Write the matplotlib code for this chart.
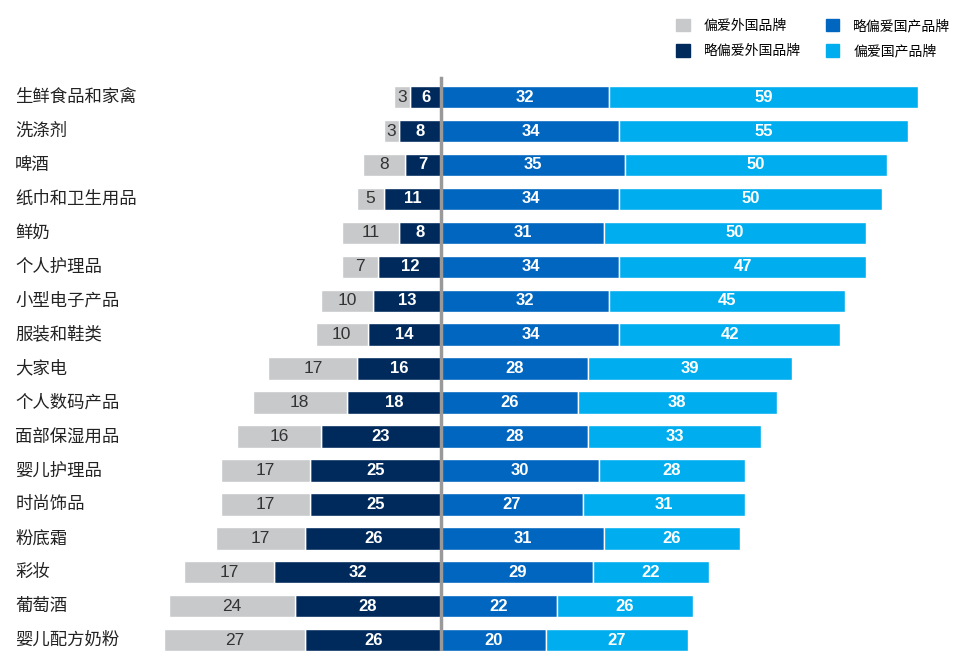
import numpy as np
import matplotlib.pyplot as plt
from matplotlib.patches import Patch

plt.rcParams['font.family'] = ['Noto Sans CJK SC', 'DejaVu Sans']

categories = ['生鲜食品和家禽', '洗涤剂', '啤酒', '纸巾和卫生用品', '鲜奶', '个人护理品',
              '小型电子产品', '服装和鞋类', '大家电', '个人数码产品', '面部保湿用品',
              '婴儿护理品', '时尚饰品', '粉底霜', '彩妆', '葡萄酒', '婴儿配方奶粉']
foreign = [3, 3, 8, 5, 11, 7, 10, 10, 17, 18, 16, 17, 17, 17, 17, 24, 27]
foreign_slight = [6, 8, 7, 11, 8, 12, 13, 14, 16, 18, 23, 25, 25, 26, 32, 28, 26]
domestic_slight = [32, 34, 35, 34, 31, 34, 32, 34, 28, 26, 28, 30, 27, 31, 29, 22, 20]
domestic = [59, 55, 50, 50, 50, 47, 45, 42, 39, 38, 33, 28, 31, 26, 22, 26, 27]

series_names = ['偏爱外国品牌', '略偏爱外国品牌', '略偏爱国产品牌', '偏爱国产品牌']
c_gray = '#C8C9CB'
c_navy = '#002A5C'
c_blue = '#0066C0'
c_light = '#00AEEF'

fig = plt.figure(figsize=(9.57, 6.51), dpi=100)
ax = fig.add_axes([0, 0, 1, 1])

y = np.arange(len(categories))
fs = np.array(foreign_slight)
f = np.array(foreign)
ds = np.array(domestic_slight)
d = np.array(domestic)
h = 0.66

ax.barh(y, -fs, height=h, color=c_navy, edgecolor='white', linewidth=1)
ax.barh(y, -f, left=-fs, height=h, color=c_gray, edgecolor='white', linewidth=1)
ax.barh(y, ds, height=h, color=c_blue, edgecolor='white', linewidth=1)
ax.barh(y, d, left=ds, height=h, color=c_light, edgecolor='white', linewidth=1)

for i in range(len(categories)):
    ax.text(-fs[i] / 2, i, str(fs[i]), ha='center', va='center', color='white',
            fontsize=12, fontweight='bold', family='Liberation Sans')
    ax.text(-fs[i] - f[i] / 2, i, str(f[i]), ha='center', va='center', color='#333333',
            fontsize=12.5, family='Liberation Sans')
    ax.text(ds[i] / 2, i, str(ds[i]), ha='center', va='center', color='white',
            fontsize=12, fontweight='bold', family='Liberation Sans')
    ax.text(ds[i] + d[i] / 2, i, str(d[i]), ha='center', va='center', color='white',
            fontsize=12, fontweight='bold', family='Liberation Sans')
    ax.text(-81.3, i, categories[i], ha='left', va='center', color='#222222', fontsize=12.5)

ax.plot([0, 0], [-0.56, 16.5], color='#999999', linewidth=2.5, zorder=5)

ax.set_xlim(-84.2, 98.4)
ax.set_ylim(16.32, -2.86)
ax.axis('off')

handles = [Patch(color=c_gray), Patch(color=c_navy), Patch(color=c_blue), Patch(color=c_light)]
fig.legend(handles, series_names, ncol=2, loc='upper left', bbox_to_anchor=(0.693, 0.99),
           frameon=False, fontsize=10, handlelength=1.0, handleheight=1.0,
           columnspacing=1.8, labelspacing=0.8, handletextpad=1.0)

fig.savefig('out.png', dpi=100)
